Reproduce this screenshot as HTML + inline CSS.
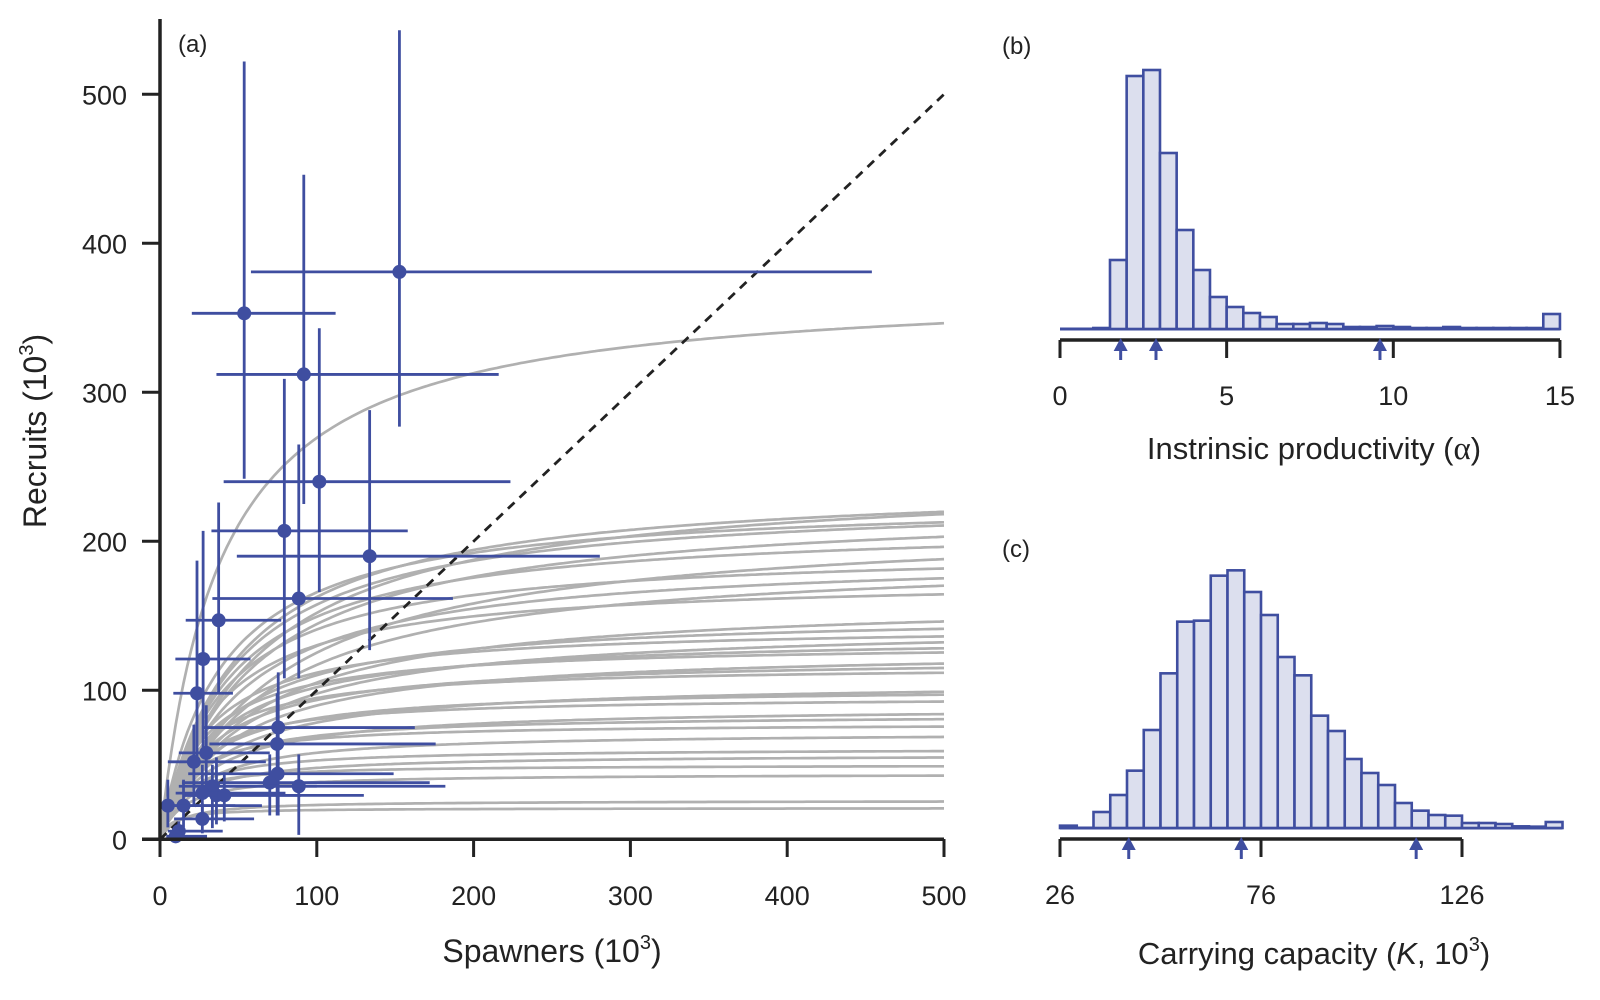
<!DOCTYPE html>
<html><head><meta charset="utf-8"><style>
html,body{margin:0;padding:0;background:#fff;}
svg{display:block;font-family:"Liberation Sans",sans-serif;}
</style></head><body>
<svg id="chart" width="1600" height="1000" viewBox="0 0 1600 1000">
<g id="curves"></g>
<g id="oneone"></g>
<g id="points"></g>
<g id="axesA"></g>
<g id="histB"></g>
<g id="histC"></g>
<text x="178" y="52" font-size="24" fill="#222">(a)</text>
<text x="1002" y="54" font-size="24" fill="#222">(b)</text>
<text x="1002" y="557" font-size="24" fill="#222">(c)</text>
<text x="552" y="962" font-size="32" fill="#222" text-anchor="middle">Spawners (10<tspan font-size="20" dy="-13">3</tspan><tspan dy="13">)</tspan></text>
<text transform="translate(46,431) rotate(-90)" font-size="32" fill="#222" text-anchor="middle">Recruits (10<tspan font-size="20" dy="-13">3</tspan><tspan dy="13">)</tspan></text>
<text x="1314" y="459" font-size="31" fill="#222" text-anchor="middle">Instrinsic productivity (<tspan font-family="Liberation Serif,serif" font-size="33">α</tspan>)</text>
<text x="1314" y="964" font-size="31" fill="#222" text-anchor="middle">Carrying capacity (<tspan font-style="italic">K</tspan>, 10<tspan font-size="20" dy="-13">3</tspan><tspan dy="13">)</tspan></text>
</svg>
<script>
const curveAlpha=[9.7,5,4,6,5,4,5,3,5,4,3,5,3,4,5,3,4,5,3,4,5,3,4,5,3,4,5,3,4,3,5,3,2,3];
const curveK=[373,241,245,229,230,226,213,215,196,192,192,176,162,152,144,145,137,132,128,122,117,106,102,96,89,84,78,72,61,57,50,44,26,21];
const ptS=[152.7,53.7,91.7,101.6,79.3,133.7,88.5,37.4,27.5,23.6,75.4,74.7,21.6,29.5,75,70,88.5,33.4,36,27,15,5,27,12,10,41];
const ptSlo=[58,20.3,36,40.6,32.8,49,33.4,16.4,9.8,8.5,28,31.5,5,12,18,14,21.6,12,15,10,6,0.7,9,5,4,15];
const ptShi=[454,112,216,223.5,158,280.5,186.8,77.3,57.7,46.5,162.5,175.8,67.5,70,149,172,182,100,90,80,65,48,60,40,30,130];
const ptR=[380.8,353,312,240,207,190,161.6,147,121,98,75,64,52,58,44,38,35.6,35.6,29.5,31,22.6,22.6,13.7,5.5,2,29.5];
const ptRlo=[277,242,225,166,108,127,108,98,60,53,16,16,23,30,16,16,3,7.5,10,12,8,8,4,1,0,12];
const ptRhi=[543,522,446,343,309,288,265,226,207,187,112,98,77,90,74,57,57,50,55,50,40,40,24,12,6,45];
const xTicksA=[0,100,200,300,400,500];
const yTicksA=[0,100,200,300,400,500];
const alphaBinStart=0, alphaBinWidth=0.5;
const alphaCounts=[0,0,1,69,253,259,176,99,59,32,22,16,12,5,5,6,5,2,2,3,2,1,1,2,1,1,1,1,1,15];
const alphaTicks=[0,5,10,15];
const alphaMarks=[1.82,2.88,9.6];
const kBinStart=26, kBinWidth=125/30;
const kCounts=[7,0,48,99,172,294,464,619,622,757,773,708,639,513,458,337,291,207,165,129,75,52,39,37,15,15,12,5,4,18];
const kTicks=[26,76,126];
const kMarks=[43.1,71.1,114.6];

const NS="http://www.w3.org/2000/svg";
const BLUE="#3f4ea0", INK="#222";
function mk(tag,attrs,parent){const e=document.createElementNS(NS,tag);for(const k in attrs)e.setAttribute(k,attrs[k]);parent.appendChild(e);return e;}
const sx=v=>160+v*1.568, sy=v=>839.3-v*1.49;
const gC=document.getElementById('curves');
curveAlpha.forEach((a,i)=>{const K=curveK[i];let d="";for(let s=0;s<=500;s+=2.5){const r=a*s/(1+a*s/K);d+=(s?"L":"M")+sx(s).toFixed(1)+","+sy(r).toFixed(1);}
 const p=mk('path',{d:d,fill:"none",stroke:"#b0b0b0","stroke-width":2.7},gC);
 
 });
const l=mk('line',{x1:sx(0),y1:sy(0),x2:sx(500),y2:sy(500),stroke:INK,"stroke-width":2.8,"stroke-dasharray":"9,7"},document.getElementById('oneone'));


const gP=document.getElementById('points');
ptS.forEach((s,i)=>{const g=mk('g',{},gP);
 
 
 mk('line',{x1:sx(ptSlo[i]),x2:sx(ptShi[i]),y1:sy(ptR[i]),y2:sy(ptR[i]),stroke:BLUE,"stroke-width":2.8},g);
 mk('line',{x1:sx(s),x2:sx(s),y1:sy(ptRlo[i]),y2:sy(ptRhi[i]),stroke:BLUE,"stroke-width":2.8},g);
 mk('circle',{cx:sx(s),cy:sy(ptR[i]),r:7,fill:BLUE},g);});
const gA=document.getElementById('axesA');
mk('line',{x1:160,y1:19,x2:160,y2:839.3,stroke:INK,"stroke-width":3.5},gA);
mk('line',{x1:142,y1:839.3,x2:sx(500),y2:839.3,stroke:INK,"stroke-width":3.5},gA);
xTicksA.forEach(v=>{mk('line',{x1:sx(v),x2:sx(v),y1:839,y2:857,stroke:INK,"stroke-width":3},gA);
 const t=mk('text',{x:sx(v),y:905,"font-size":27,fill:INK,"text-anchor":"middle"},gA);t.textContent=v;
 
 });
yTicksA.forEach(v=>{mk('line',{x1:142,x2:160,y1:sy(v),y2:sy(v),stroke:INK,"stroke-width":3},gA);
 const t=mk('text',{x:127,y:sy(v)+10,"font-size":27,fill:INK,"text-anchor":"end"},gA);t.textContent=v;
 
 });
function hist(gid,x0px,pxPerUnit,binStart,binW,counts,scale,base,axisY,axisEnd,ticks,marks){
 const g=document.getElementById(gid);const X=v=>x0px+(v-binStart)*pxPerUnit;
 mk('line',{x1:X(binStart),x2:X(binStart+binW*counts.length),y1:base,y2:base,stroke:BLUE,"stroke-width":3},g);
 counts.forEach((c,i)=>{if(c<=0)return;const h=c*scale;
  const r=mk('rect',{x:X(binStart+i*binW),y:base-h,width:binW*pxPerUnit,height:h,fill:"#dcdfee",stroke:BLUE,"stroke-width":2.6},g);
  
  });
 mk('line',{x1:X(binStart),x2:axisEnd,y1:axisY,y2:axisY,stroke:INK,"stroke-width":3.5},g);
 ticks.forEach(v=>{mk('line',{x1:X(v),x2:X(v),y1:axisY,y2:axisY+18,stroke:INK,"stroke-width":3},g);
  const t=mk('text',{x:X(v),y:axisY+65,"font-size":27,fill:INK,"text-anchor":"middle"},g);t.textContent=v;
  
  });
 marks.forEach(v=>{const a=mk('g',{},g);
  
  
  mk('line',{x1:X(v),x2:X(v),y1:axisY+4,y2:axisY+20,stroke:BLUE,"stroke-width":3},a);
  mk('path',{d:`M${X(v)-7},${axisY+11}L${X(v)},${axisY-2}L${X(v)+7},${axisY+11}Z`,fill:BLUE},a);});
}
hist('histB',1060,33.33,alphaBinStart,alphaBinWidth,alphaCounts,1,329,340,1560,alphaTicks,alphaMarks);
hist('histC',1060,4.02,kBinStart,kBinWidth,kCounts,1/3,828,839,1462,kTicks,kMarks);
</script>
</body></html>
